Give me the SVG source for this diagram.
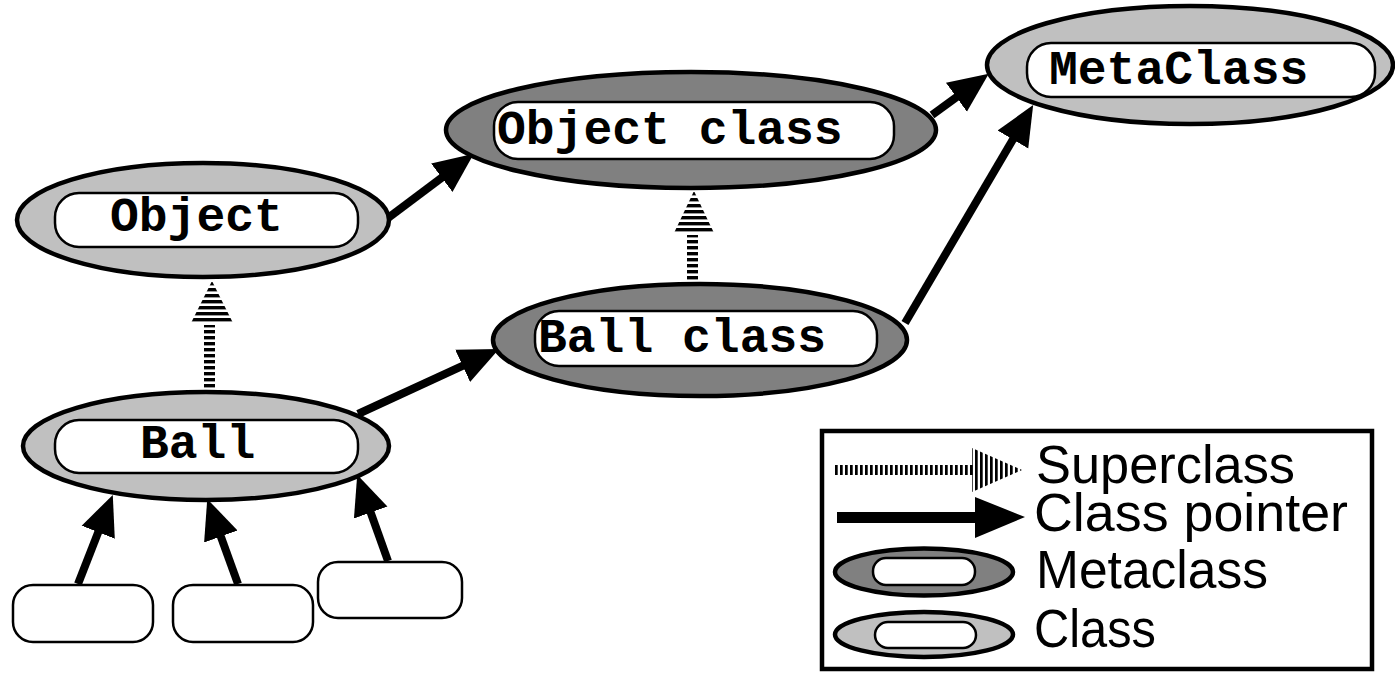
<svg xmlns="http://www.w3.org/2000/svg" width="1395" height="675" viewBox="0 0 1395 675">
  <style>
    .cls { fill: #c0c0c0; stroke: #000; stroke-width: 4.5; }
    .meta { fill: #808080; stroke: #000; stroke-width: 4.5; }
    .box { fill: #fff; stroke: #000; stroke-width: 2.5; }
    .name { font-family: "Liberation Mono", "Courier New", monospace; font-weight: bold; font-size: 48px; fill: #000; }
    .ptr { stroke: #000; stroke-width: 8; fill: none; }
    .legend { font-family: "Liberation Sans", Arial, Helvetica, sans-serif; font-size: 54px; fill: #000; }
  </style>
  <defs>
    <marker id="head" markerUnits="userSpaceOnUse" markerWidth="40" markerHeight="40" viewBox="0 0 36 32" refX="16" refY="16" orient="auto">
      <path d="M0,0 L36,16 L0,32 z" fill="#000"/>
    </marker>
    <pattern id="hstripes" patternUnits="userSpaceOnUse" width="20" height="6">
      <rect x="0" y="0" width="20" height="3.4" fill="#000"/>
    </pattern>
    <pattern id="vstripes" patternUnits="userSpaceOnUse" width="5" height="20">
      <rect x="0" y="0" width="2.7" height="20" fill="#000"/>
    </pattern>
  </defs>

  <!-- class pointers and superclass links -->
  <g id="connectors">
    <line class="ptr" x1="388" y1="218" x2="456" y2="167" marker-end="url(#head)"/>
    <line class="ptr" x1="932" y1="115" x2="970.8" y2="86.8" marker-end="url(#head)"/>
    <line class="ptr" x1="905" y1="323" x2="1021.9" y2="124.2" marker-end="url(#head)"/>
    <line class="ptr" x1="358" y1="414" x2="478.8" y2="358.4" marker-end="url(#head)"/>
    <line class="ptr" x1="78" y1="584" x2="104.7" y2="515.6" marker-end="url(#head)"/>
    <line class="ptr" x1="238" y1="584" x2="214.8" y2="519.8" marker-end="url(#head)"/>
    <line class="ptr" x1="388" y1="561" x2="364.7" y2="495.8" marker-end="url(#head)"/>
    <!-- superclass: Ball -> Object -->
    <g id="super-ball-object" fill="url(#hstripes)">
      <polygon points="212,281 233,323 191,323"/>
      <rect x="204" y="325" width="11" height="66"/>
    </g>
    <!-- superclass: Ball class -> Object class -->
    <g id="super-ballclass-objectclass" fill="url(#hstripes)">
      <polygon points="694,191 714,233 674,233"/>
      <rect x="687" y="235" width="11" height="47"/>
    </g>
  </g>

  <g id="object">
    <ellipse class="cls" cx="203" cy="220" rx="186" ry="57"/>
    <rect class="box" x="55" y="193" width="303" height="54" rx="24"/>
    <text class="name" x="110" y="231">Object</text>
  </g>

  <g id="object-class">
    <ellipse class="meta" cx="691" cy="130" rx="245" ry="58"/>
    <rect class="box" x="494" y="102" width="400" height="57" rx="24"/>
    <text class="name" x="497" y="144">Object class</text>
  </g>

  <g id="metaclass">
    <ellipse class="cls" cx="1190" cy="65" rx="203" ry="59"/>
    <rect class="box" x="1027" y="43" width="348" height="54" rx="24"/>
    <text class="name" x="1049" y="84">MetaClass</text>
  </g>

  <g id="ball-class">
    <ellipse class="meta" cx="700" cy="340" rx="207" ry="56"/>
    <rect class="box" x="535" y="311" width="342" height="55" rx="24"/>
    <text class="name" x="538" y="352">Ball class</text>
  </g>

  <g id="ball">
    <ellipse class="cls" cx="206" cy="446" rx="183" ry="54"/>
    <rect class="box" x="55" y="420" width="303" height="53" rx="24"/>
    <text class="name" x="140" y="458">Ball</text>
  </g>

  <g id="instance-1">
    <rect class="box" x="13" y="585" width="140" height="57" rx="20"/>
  </g>
  <g id="instance-2">
    <rect class="box" x="173" y="585" width="140" height="57" rx="20"/>
  </g>
  <g id="instance-3">
    <rect class="box" x="318" y="562" width="144" height="56" rx="20"/>
  </g>

  <g id="legend">
    <rect x="822" y="431" width="550" height="238" fill="#fff" stroke="#000" stroke-width="4.5"/>
    <!-- superclass sample -->
    <rect x="833" y="465" width="140" height="10" fill="url(#vstripes)"/>
    <polygon points="972,448 1022,470 972,492" fill="url(#vstripes)"/>
    <text class="legend" x="1036" y="483" textLength="259" lengthAdjust="spacingAndGlyphs">Superclass</text>
    <!-- class pointer sample -->
    <rect x="837" y="512" width="142" height="11" fill="#000"/>
    <polygon points="975,497 1025,517 975,538" fill="#000"/>
    <text class="legend" x="1034" y="531" textLength="314" lengthAdjust="spacingAndGlyphs">Class pointer</text>
    <!-- metaclass sample -->
    <ellipse class="meta" cx="924" cy="572" rx="89" ry="23.5"/>
    <rect class="box" x="873" y="558" width="102" height="27" rx="13"/>
    <text class="legend" x="1036" y="588" textLength="232" lengthAdjust="spacingAndGlyphs">Metaclass</text>
    <!-- class sample -->
    <ellipse class="cls" cx="924" cy="634.5" rx="89" ry="22.5"/>
    <rect class="box" x="875" y="622" width="101" height="26" rx="13"/>
    <text class="legend" x="1034" y="647" textLength="122" lengthAdjust="spacingAndGlyphs">Class</text>
  </g>
</svg>
